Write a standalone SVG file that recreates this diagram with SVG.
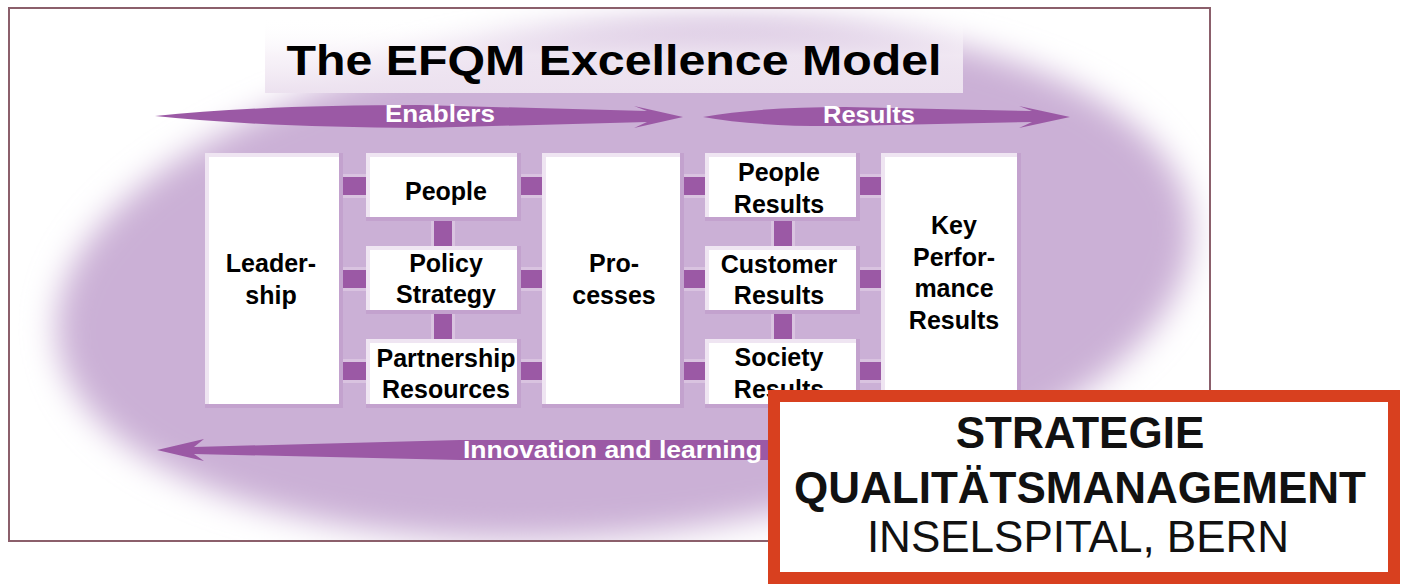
<svg xmlns="http://www.w3.org/2000/svg" width="1401" height="584" viewBox="0 0 1401 584">
  <style>
    .lbl { font-family: "Liberation Sans", Arial, sans-serif; font-weight: bold; font-size: 25px; text-anchor: middle; fill: #000; }
    .arrow-lbl { font-family: "Liberation Sans", Arial, sans-serif; font-weight: bold; font-size: 24px; fill: #fff; }
    .arrow { fill: #9b59a5; }
    .bev-d { fill: #c3a2ce; }
    .bev-l { fill: #efe5f2; }
    .inner { fill: #fff; }
    .bar-l { fill: #d9c3e0; }
    .bar { fill: #9b59a5; }
    .big { font-family: "Liberation Sans", Arial, sans-serif; font-size: 44px; text-anchor: middle; fill: #111; }
  </style>
  <defs>
    <filter id="soft" x="-10%" y="-20%" width="120%" height="140%">
      <feGaussianBlur stdDeviation="16"/>
    </filter>
    <clipPath id="frameClip">
      <rect x="10" y="9" width="1199" height="531"/>
    </clipPath>
    <linearGradient id="titleBg" x1="0" y1="0" x2="0" y2="1">
      <stop offset="0" stop-color="#ffffff" stop-opacity="0"/>
      <stop offset="0.5" stop-color="#f6f0f7" stop-opacity="0.8"/>
      <stop offset="1" stop-color="#ece1ef"/>
    </linearGradient>
  </defs>

  <rect x="0" y="0" width="1401" height="584" fill="#fff"/>

  <!-- background -->
  <g id="background" clip-path="url(#frameClip)">
    <ellipse cx="624" cy="280" rx="570" ry="254" transform="rotate(-6 624 280)" fill="#cbb0d6" filter="url(#soft)"/>
    <rect x="265" y="18" width="698" height="75" fill="url(#titleBg)"/>
  </g>
  <rect id="frame" x="9" y="8" width="1201" height="533" fill="none" stroke="#8b5f6b" stroke-width="2"/>

  <g id="title">
    <text x="614" y="75" font-family="'Liberation Sans', Arial, sans-serif" font-weight="bold" font-size="42" text-anchor="middle" textLength="655" lengthAdjust="spacingAndGlyphs" fill="#000">The EFQM Excellence Model</text>
  </g>

  <!-- flow arrows -->
  <g id="arrows">
    <g id="arrow-enablers">
      <path class="arrow" d="M155,116 Q260,105 420,105 L647,111 L634,106 L683,117 L634,128 L647,122 L420,128 Q260,127 155,116 Z"/>
      <text class="arrow-lbl" x="385" y="122" textLength="110" lengthAdjust="spacingAndGlyphs">Enablers</text>
    </g>
    <g id="arrow-results">
      <path class="arrow" d="M703,117 Q760,107 845,107 L1032,111 L1019,106 L1070,117 L1019,128 L1032,122 L845,126 Q760,127 703,117 Z"/>
      <text class="arrow-lbl" x="823" y="123" textLength="92" lengthAdjust="spacingAndGlyphs">Results</text>
    </g>
    <g id="arrow-innovation">
      <path class="arrow" d="M157,450 L204,439 L194,447 L460,440 L780,440 L780,460 L460,460 L194,454 L204,461 Z"/>
      <text class="arrow-lbl" x="463" y="458" textLength="299" lengthAdjust="spacingAndGlyphs">Innovation and learning</text>
    </g>
  </g>

  <!-- connectors -->
  <g id="connectors">
    <rect class="bar-l" x="340" y="174" width="544" height="24"/>
    <rect class="bar-l" x="340" y="267" width="544" height="24"/>
    <rect class="bar-l" x="340" y="359" width="544" height="24"/>
    <rect class="bar" x="340" y="177" width="544" height="18"/>
    <rect class="bar" x="340" y="270" width="544" height="18"/>
    <rect class="bar" x="340" y="362" width="544" height="18"/>
    <rect class="bar-l" x="431" y="218" width="24" height="124"/>
    <rect class="bar" x="434" y="218" width="18" height="124"/>
    <rect class="bar-l" x="771" y="218" width="24" height="124"/>
    <rect class="bar" x="774" y="218" width="18" height="124"/>
  </g>

  <!-- nodes -->
  <g id="leadership">
    <rect class="bev-d" x="205" y="153" width="138" height="255"/>
    <rect class="bev-l" x="205" y="153" width="134" height="251"/>
    <rect class="inner" x="209" y="157" width="130" height="247"/>
    <text class="lbl" x="271" y="272">Leader-</text>
    <text class="lbl" x="271" y="304">ship</text>
  </g>
  <g id="people">
    <rect class="bev-d" x="366" y="153" width="155" height="68"/>
    <rect class="bev-l" x="366" y="153" width="151" height="64"/>
    <rect class="inner" x="370" y="157" width="147" height="60"/>
    <text class="lbl" x="446" y="200">People</text>
  </g>
  <g id="policy-strategy">
    <rect class="bev-d" x="366" y="246" width="155" height="68"/>
    <rect class="bev-l" x="366" y="246" width="151" height="64"/>
    <rect class="inner" x="370" y="250" width="147" height="60"/>
    <text class="lbl" x="446" y="272">Policy</text>
    <text class="lbl" x="446" y="303">Strategy</text>
  </g>
  <g id="partnership-resources">
    <rect class="bev-d" x="366" y="339" width="155" height="69"/>
    <rect class="bev-l" x="366" y="339" width="151" height="65"/>
    <rect class="inner" x="370" y="343" width="147" height="61"/>
    <text class="lbl" x="446" y="367">Partnership</text>
    <text class="lbl" x="446" y="398">Resources</text>
  </g>
  <g id="processes">
    <rect class="bev-d" x="542" y="153" width="142" height="255"/>
    <rect class="bev-l" x="542" y="153" width="138" height="251"/>
    <rect class="inner" x="546" y="157" width="134" height="247"/>
    <text class="lbl" x="614" y="272">Pro-</text>
    <text class="lbl" x="614" y="304">cesses</text>
  </g>
  <g id="people-results">
    <rect class="bev-d" x="705" y="153" width="155" height="68"/>
    <rect class="bev-l" x="705" y="153" width="151" height="64"/>
    <rect class="inner" x="709" y="157" width="147" height="60"/>
    <text class="lbl" x="779" y="181">People</text>
    <text class="lbl" x="779" y="213">Results</text>
  </g>
  <g id="customer-results">
    <rect class="bev-d" x="705" y="246" width="155" height="68"/>
    <rect class="bev-l" x="705" y="246" width="151" height="64"/>
    <rect class="inner" x="709" y="250" width="147" height="60"/>
    <text class="lbl" x="779" y="273">Customer</text>
    <text class="lbl" x="779" y="304">Results</text>
  </g>
  <g id="society-results">
    <rect class="bev-d" x="705" y="339" width="155" height="69"/>
    <rect class="bev-l" x="705" y="339" width="151" height="65"/>
    <rect class="inner" x="709" y="343" width="147" height="61"/>
    <text class="lbl" x="779" y="366">Society</text>
    <text class="lbl" x="779" y="398">Results</text>
  </g>
  <g id="key-performance-results">
    <rect class="bev-d" x="881" y="153" width="140" height="255"/>
    <rect class="bev-l" x="881" y="153" width="136" height="251"/>
    <rect class="inner" x="885" y="157" width="132" height="247"/>
    <text class="lbl" x="954" y="234">Key</text>
    <text class="lbl" x="954" y="266">Perfor-</text>
    <text class="lbl" x="954" y="297">mance</text>
    <text class="lbl" x="954" y="329">Results</text>
  </g>

  <!-- overlay label -->
  <g id="strategie-box">
    <rect x="774" y="396" width="620" height="182" fill="#fff" stroke="#d8401f" stroke-width="12"/>
    <text class="big" x="1080" y="448" font-weight="bold">STRATEGIE</text>
    <text class="big" x="1080" y="503" font-weight="bold">QUALITÄTSMANAGEMENT</text>
    <text class="big" x="1078" y="552">INSELSPITAL, BERN</text>
  </g>
</svg>
